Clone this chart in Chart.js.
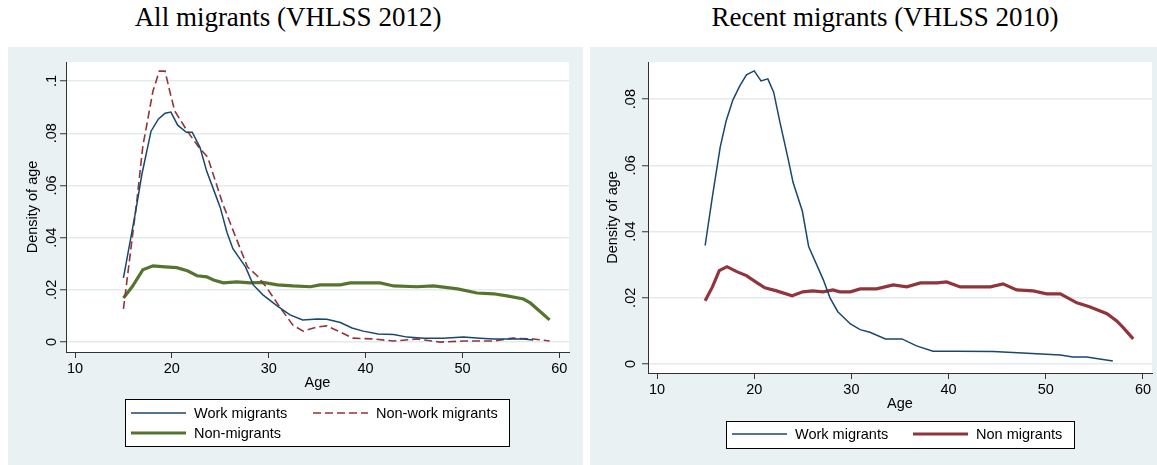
<!DOCTYPE html>
<html>
<head>
<meta charset="utf-8">
<script src="https://cdn.jsdelivr.net/npm/chart.js@4"></script>
<style>
  body { margin: 0; width: 1157px; height: 465px; background: #fff; position: relative; overflow: hidden; }
  .ttl { position: absolute; top: 1px; font-family: "Liberation Serif", "Times New Roman", serif; font-size: 27px; line-height: 32px; text-align: center; color: #000; white-space: nowrap; }
  .panel { position: absolute; top: 47px; height: 418px; background: #eaf1f3; }
  canvas { display: block; }
</style>
</head>
<body>
<div class="ttl" style="left:0px;width:576px">All migrants (VHLSS 2012)</div>
<div class="ttl" style="left:600px;width:570px">Recent migrants (VHLSS 2010)</div>
<div class="panel" style="left:8px;width:575px"><canvas id="allChart" width="575" height="418"></canvas></div>
<div class="panel" style="left:590px;width:567px"><canvas id="recentChart" width="567" height="418"></canvas></div>
<script>
// tick labels
var ageTicks = [10, 20, 30, 40, 50, 60];
var densTicksAll = [0, 0.02, 0.04, 0.06, 0.08, 0.1];
var densTicksRecent = [0, 0.02, 0.04, 0.06, 0.08];

// All migrants (VHLSS 2012)
var allWorkAge = [15, 16.3, 16.9, 17.85, 18.6, 19.3, 19.9, 20.6, 21.5, 22.1, 22.9, 23.6, 24.3, 25, 25.7, 26.3, 27.6, 28.4, 29.4, 30.9, 32.2, 33.5, 35, 36, 37.4, 38.6, 39.75, 41.3, 42.9, 44.3, 46, 48, 50.1, 51.8, 53.2, 56.3, 57.3];
var allWorkDens = [.0246, .0508, .0642, .0808, .0854, .0877, .0881, .0831, .0804, .0804, .0746, .0654, .0585, .0515, .0419, .0358, .0288, .0219, .0181, .0138, .0104, .0085, .0088, .0087, .0075, .0054, .0042, .0031, .0029, .0019, .0015, .0015, .0019, .0015, .0012, .0012, .0008];

var allNonWorkAge = [15, 16.4, 17, 18.05, 18.7, 19.3, 19.8, 20.3, 21.6, 22.7, 23.7, 25.25, 26.3, 27.8, 28.8, 29.8, 31.2, 32.5, 33.55, 35, 36, 37.4, 38.7, 40.8, 42.9, 45.3, 47.7, 50.1, 53.2, 55.2, 57.3, 59];
var allNonWorkDens = [.0127, .0546, .075, .0962, .1038, .1038, .0958, .0885, .0808, .075, .0708, .053, .043, .0288, .0254, .0208, .0131, .0065, .0042, .0058, .0062, .0038, .0015, .0012, .0004, .0012, .0000, .0004, .0004, .0015, .0012, .0004];

var allNonMigAge = [15, 15.9, 17, 18.05, 19.3, 20.5, 21.6, 22.6, 23.6, 24.3, 25.3, 26.7, 28.1, 29.4, 30.9, 32.5, 34.3, 35.3, 37.4, 38.4, 41.5, 42.9, 45.3, 47, 49.5, 51.5, 53.2, 54.6, 56.3, 57, 59];
var allNonMigDens = [.0169, .0212, .0277, .0292, .0288, .0285, .0273, .0254, .025, .0238, .0227, .0231, .0227, .0229, .0219, .0215, .0212, .0219, .0219, .0227, .0227, .0215, .0212, .0215, .0204, .0188, .0185, .0177, .0165, .015, .0085];

// Recent migrants (VHLSS 2010)
var recWorkAge = [14.95, 15.7, 16.5, 17.1, 17.8, 18.5, 19.2, 20, 20.7, 21.4, 22, 22.65, 23.5, 24, 24.95, 25.6, 27.1, 27.8, 28.6, 29.9, 30.9, 31.9, 33.5, 35.2, 36.7, 38.4, 40.9, 44.6, 48.1, 51.5, 52.8, 54.2, 56.9];
var recWorkDens = [.0358, .0506, .0655, .0733, .0797, .0839, .0873, .0885, .0855, .0861, .0821, .073, .0618, .0548, .0462, .0355, .0255, .02, .0158, .0121, .0104, .0096, .0076, .0076, .0055, .0039, .0039, .0038, .0033, .0027, .0021, .0021, .0009];

var recNonMigAge = [14.95, 15.7, 16.4, 17.2, 18.2, 19.2, 20.3, 21.1, 22.3, 23.9, 25, 26, 27.1, 28.1, 28.8, 29.9, 30.9, 32.6, 34.3, 35.7, 37.1, 38.8, 39.8, 41.2, 43.2, 44.3, 45.6, 47, 48.7, 50.1, 51.5, 53.2, 54.5, 56.3, 57.3, 57.9, 59];
var recNonMigDens = [.0191, .0233, .0282, .0294, .0279, .0267, .0245, .023, .0221, .0206, .0218, .0221, .0218, .0224, .0218, .0218, .0227, .0227, .0239, .0233, .0245, .0245, .0248, .0233, .0233, .0233, .0242, .0224, .0221, .0212, .0212, .0185, .0173, .0152, .013, .0112, .0076];

var navy = "#1a476f", maroon = "#90353b", green = "#55752f";

Chart.defaults.font.family = '"Liberation Sans", Arial, sans-serif';
Chart.defaults.font.size = 14.5;
Chart.defaults.color = "#000";

function pts(xs, ys) {
  return xs.map(function (a, i) { return { x: a, y: ys[i] }; });
}

function densLabel(v) {
  if (v === 0) return "0";
  return String(v).replace("0.", ".");
}

// white plot region
var plotBg = {
  id: "plotBg",
  beforeDraw: function (chart) {
    var a = chart.chartArea, ctx = chart.ctx;
    ctx.save();
    ctx.fillStyle = "#fff";
    ctx.fillRect(a.left, a.top, a.right - a.left, a.bottom - a.top);
    ctx.restore();
  }
};

// legend in a framed box, Stata style
var boxLegend = {
  id: "boxLegend",
  afterDraw: function (chart, args, opts) {
    var ctx = chart.ctx, b = opts.box;
    ctx.save();
    ctx.fillStyle = "#fff";
    ctx.fillRect(b[0], b[1], b[2], b[3]);
    ctx.strokeStyle = "#000";
    ctx.lineWidth = 1;
    ctx.strokeRect(b[0] + 0.5, b[1] + 0.5, b[2], b[3]);
    opts.items.forEach(function (it, i) {
      var ds = chart.data.datasets[i];
      ctx.beginPath();
      ctx.setLineDash(ds.borderDash || []);
      ctx.strokeStyle = ds.borderColor;
      ctx.lineWidth = ds.borderWidth;
      ctx.moveTo(it[0], it[1]);
      ctx.lineTo(it[0] + 55, it[1]);
      ctx.stroke();
      ctx.setLineDash([]);
      ctx.fillStyle = "#000";
      ctx.font = '14.5px "Liberation Sans", Arial, sans-serif';
      ctx.textBaseline = "middle";
      ctx.fillText(ds.label, it[0] + 63, it[1] + 1);
    });
    ctx.restore();
  }
};

function makePanel(id, datasets, yTicks, yMin, yMax, xMax, pad, legend, yTitlePad, yTickPad) {
  return new Chart(id, {
    type: "line",
    data: { datasets: datasets },
    plugins: [plotBg, boxLegend],
    options: {
      responsive: false,
      animation: false,
      devicePixelRatio: 1,
      layout: { padding: pad },
      elements: { point: { radius: 0 }, line: { tension: 0 } },
      plugins: {
        legend: { display: false },
        tooltip: { enabled: false },
        boxLegend: legend
      },
      scales: {
        x: {
          type: "linear",
          min: 9.07,
          max: xMax,
          afterBuildTicks: function (s) { s.ticks = ageTicks.map(function (v) { return { value: v }; }); },
          afterFit: function (s) { s.height = 50; },
          ticks: { autoSkip: false, maxRotation: 0, padding: 2, callback: function (v) { return String(v); } },
          grid: { drawOnChartArea: false, drawTicks: true, tickLength: 6, tickColor: "#333", tickWidth: 1 },
          border: { display: true, color: "#333", width: 1 },
          title: { display: true, text: "Age", padding: { top: 0, bottom: 10.5 } }
        },
        y: {
          type: "linear",
          min: yMin,
          max: yMax,
          afterBuildTicks: function (s) { s.ticks = yTicks.map(function (v) { return { value: v }; }); },
          afterFit: function (s) { s.width = 58; },
          ticks: { autoSkip: false, minRotation: 90, maxRotation: 90, crossAlign: "center", padding: yTickPad, callback: densLabel },
          grid: { color: "#e3ebee", lineWidth: 1.5, drawTicks: true, tickLength: 6, tickColor: "#333", tickWidth: 1 },
          border: { display: true, color: "#333", width: 1 },
          title: { display: true, text: "Density of age", padding: { top: yTitlePad, bottom: 0 } }
        }
      }
    }
  });
}

makePanel("allChart", [
  { label: "Work migrants", data: pts(allWorkAge, allWorkDens), borderColor: navy, borderWidth: 1.5 },
  { label: "Non-work migrants", data: pts(allNonWorkAge, allNonWorkDens), borderColor: maroon, borderWidth: 1.6, borderDash: [8, 4] },
  { label: "Non-migrants", data: pts(allNonMigAge, allNonMigDens), borderColor: green, borderWidth: 3.2 }
], densTicksAll, -0.0038, 0.1073, 61.0, { top: 15, right: 14, bottom: 63, left: 0 },
  { box: [117, 352, 384, 47], items: [[123, 366], [305, 366], [123, 386]] }, 16, -2);

makePanel("recentChart", [
  { label: "Work migrants", data: pts(recWorkAge, recWorkDens), borderColor: navy, borderWidth: 1.5 },
  { label: "Non migrants", data: pts(recNonMigAge, recNonMigDens), borderColor: maroon, borderWidth: 3.2 }
], densTicksRecent, -0.0027, 0.0912, 60.93, { top: 15, right: 5, bottom: 42, left: 0 },
  { box: [136, 374, 348, 27], items: [[142, 387], [323, 387]] }, 14, 1);
</script>
</body>
</html>
